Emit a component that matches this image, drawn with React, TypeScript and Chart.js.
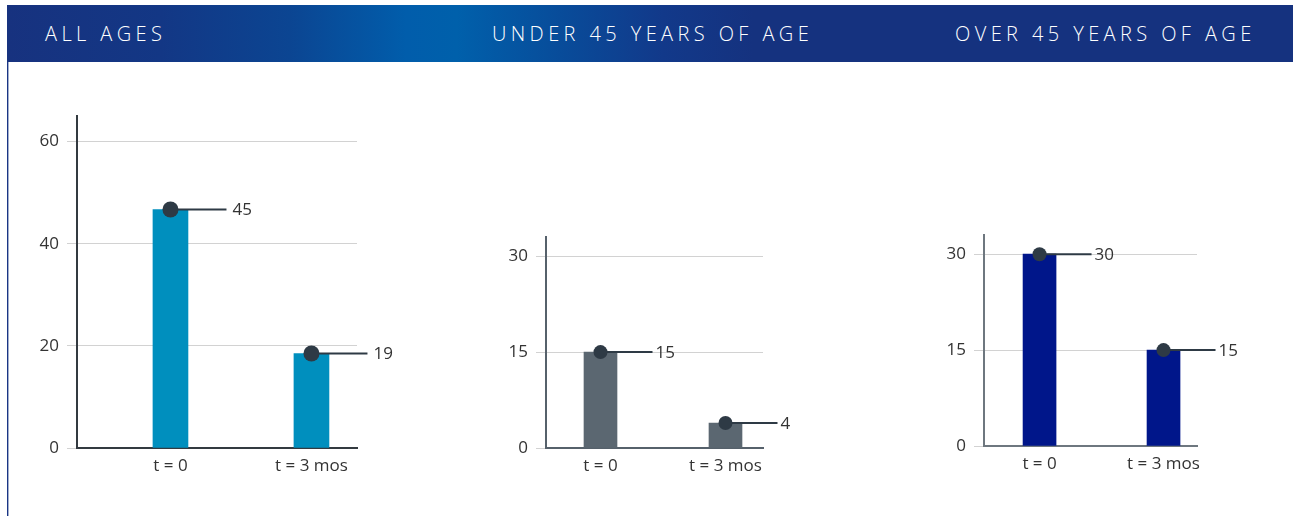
import React, { useEffect, useRef } from "react";
import { Chart, registerables } from "chart.js";

Chart.register(...registerables);

// ---------- data ----------
const PANEL_TITLES = ["ALL AGES", "UNDER 45 YEARS OF AGE", "OVER 45 YEARS OF AGE"];
const CATEGORIES = ["t = 0", "t = 3 mos"];

const ALL_AGES_VALUES = [46.7, 18.5];
const ALL_AGES_LABELS = ["45", "19"];
const ALL_AGES_TICKS = [0, 20, 40, 60];

const UNDER_45_VALUES = [15, 3.9];
const UNDER_45_LABELS = ["15", "4"];

const OVER_45_VALUES = [30, 15];
const OVER_45_LABELS = ["30", "15"];

const SUB_TICKS = [0, 15, 30];

// ---------- layout / style ----------
const FONT = '"Open Sans", "Noto Sans", sans-serif';
const TEXT = "#333333";
const MARK = "#2e3a45";
const GRID = "#d2d2d2";
const FONT_SIZE = 17;

type PanelCfg = {
  values: number[];
  labels: string[];
  ticks: number[];
  yMax: number;
  color: string;
  axisColor: string;
  barWidth: number;
  L: number;
  R: number;
  T: number;
  B: number;
  xMin: number;
  xMax: number;
  radius: number;
  leader: number;
  gap: number;
};

const PANELS: PanelCfg[] = [
  {
    values: ALL_AGES_VALUES,
    labels: ALL_AGES_LABELS,
    ticks: ALL_AGES_TICKS,
    yMax: 65,
    color: "#008fbe",
    axisColor: "#333a40",
    barWidth: 35,
    L: 77,
    R: 357,
    T: 116,
    B: 448,
    xMin: 0.337,
    xMax: 2.323,
    radius: 8,
    leader: 56,
    gap: 6,
  },
  {
    values: UNDER_45_VALUES,
    labels: UNDER_45_LABELS,
    ticks: SUB_TICKS,
    yMax: 33,
    color: "#5b6771",
    axisColor: "#56616b",
    barWidth: 33,
    L: 546,
    R: 763,
    T: 237,
    B: 448,
    xMin: 0.564,
    xMax: 2.3,
    radius: 7,
    leader: 52,
    gap: 3,
  },
  {
    values: OVER_45_VALUES,
    labels: OVER_45_LABELS,
    ticks: SUB_TICKS,
    yMax: 33,
    color: "#00168a",
    axisColor: "#6e777f",
    barWidth: 33,
    L: 984,
    R: 1197,
    T: 235,
    B: 446,
    xMin: 0.552,
    xMax: 2.27,
    radius: 7,
    leader: 52,
    gap: 3,
  },
];

const Y_AXIS_W = 60;
const X_AXIS_H = 40;
const PAD_TOP = 20;
const PAD_RIGHT = 70;

function Panel({ cfg }: { cfg: PanelCfg }) {
  const ref = useRef<HTMLCanvasElement | null>(null);
  const width = Y_AXIS_W + (cfg.R - cfg.L) + PAD_RIGHT;
  const height = PAD_TOP + (cfg.B - cfg.T) + X_AXIS_H;

  useEffect(() => {
    if (!ref.current) return;
    const markers = {
      id: "markers",
      afterDatasetsDraw(chart: any) {
        const ctx = chart.ctx;
        const meta = chart.getDatasetMeta(0);
        meta.data.forEach((el: any, i: number) => {
          const { x, y } = el.getProps(["x", "y"], true);
          ctx.save();
          ctx.strokeStyle = MARK;
          ctx.lineWidth = 2;
          ctx.beginPath();
          ctx.moveTo(x, y);
          ctx.lineTo(x + cfg.leader, y);
          ctx.stroke();
          ctx.fillStyle = MARK;
          ctx.beginPath();
          ctx.arc(x, y, cfg.radius, 0, Math.PI * 2);
          ctx.fill();
          ctx.fillStyle = TEXT;
          ctx.font = `${FONT_SIZE}px ${FONT}`;
          ctx.textBaseline = "middle";
          ctx.textAlign = "left";
          ctx.fillText(cfg.labels[i], x + cfg.leader + cfg.gap, y + 1);
          ctx.restore();
        });
      },
    };

    const chart = new Chart(ref.current, {
      type: "bar",
      data: {
        datasets: [
          {
            data: cfg.values.map((v, i) => ({ x: i + 1, y: v })),
            backgroundColor: cfg.color,
            barThickness: cfg.barWidth,
            borderWidth: 0,
          },
        ],
      },
      options: {
        responsive: false,
        animation: false,
        events: [],
        layout: { padding: { top: PAD_TOP, right: PAD_RIGHT, left: 0, bottom: 0 } },
        plugins: {
          legend: { display: false },
          tooltip: { enabled: false },
          title: { display: false },
        },
        scales: {
          x: {
            type: "linear",
            min: cfg.xMin,
            max: cfg.xMax,
            offset: false,
            afterBuildTicks: (s: any) => {
              s.ticks = CATEGORIES.map((_, i) => ({ value: i + 1 }));
            },
            afterFit: (s: any) => {
              s.height = X_AXIS_H;
            },
            grid: { display: false, drawTicks: false },
            border: { display: true, color: cfg.axisColor, width: 2 },
            ticks: {
              autoSkip: false,
              maxRotation: 0,
              padding: 8,
              color: TEXT,
              font: { family: FONT, size: FONT_SIZE },
              callback: (v: any) => CATEGORIES[Math.round(Number(v)) - 1] ?? "",
            },
          },
          y: {
            type: "linear",
            min: 0,
            max: cfg.yMax,
            afterBuildTicks: (s: any) => {
              s.ticks = cfg.ticks.map((v) => ({ value: v }));
            },
            afterFit: (s: any) => {
              s.width = Y_AXIS_W;
            },
            grid: {
              display: true,
              color: GRID,
              lineWidth: 1,
              drawTicks: true,
              tickLength: 10,
              tickColor: GRID,
            },
            border: { display: true, color: cfg.axisColor, width: 2 },
            ticks: {
              padding: 8,
              color: TEXT,
              font: { family: FONT, size: FONT_SIZE },
              callback: (v: any) => String(v),
            },
          },
        },
      },
      plugins: [markers],
    });
    return () => chart.destroy();
  }, [cfg]);

  return (
    <canvas
      ref={ref}
      width={width}
      height={height}
      style={{
        position: "absolute",
        left: cfg.L - Y_AXIS_W,
        top: cfg.T - PAD_TOP,
        width,
        height,
      }}
    />
  );
}

const TITLE_LEFTS = [45, 492, 955];

export default function App() {
  return (
    <div
      style={{
        position: "fixed",
        inset: 0,
        overflow: "hidden",
        background: "#ffffff",
      }}
    >
      <div
        style={{
          position: "absolute",
          left: 7,
          top: 5,
          right: 0,
          height: 57,
          background:
            "linear-gradient(to right, #17327f 0%, #133785 12%, #0b4592 22%, #015dab 31%, #0060ab 35%, #084c9a 43%, #12398a 51%, #15327f 58%, #15327f 100%)",
        }}
      >
        {PANEL_TITLES.map((t, i) => (
          <div
            key={t}
            style={{
              position: "absolute",
              left: TITLE_LEFTS[i] - 7,
              top: 0,
              height: 57,
              lineHeight: "57px",
              color: "#ffffff",
              fontFamily: FONT,
              fontWeight: 300,
              fontSize: 20,
              letterSpacing: "4.4px",
              whiteSpace: "nowrap",
            }}
          >
            {t}
          </div>
        ))}
      </div>
      <div
        style={{
          position: "absolute",
          left: 7,
          top: 62,
          width: 1,
          bottom: 0,
          background: "#1a3585",
        }}
      />
      <div
        style={{
          position: "absolute",
          left: 8,
          top: 62,
          width: 1,
          bottom: 0,
          background: "#a3afcc",
        }}
      />
      {PANELS.map((p, i) => (
        <Panel key={i} cfg={p} />
      ))}
    </div>
  );
}
